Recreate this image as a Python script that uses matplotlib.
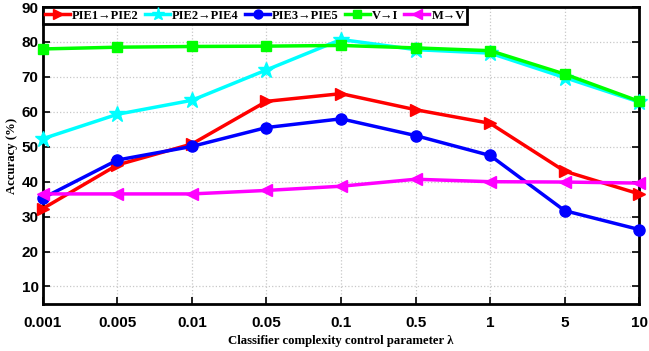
import matplotlib.pyplot as plt

LAMBDAS = ["0.001", "0.005", "0.01", "0.05", "0.1", "0.5", "1", "5", "10"]
YTICKS = [10, 20, 30, 40, 50, 60, 70, 80, 90]

pie1_pie2 = [32.3, 44.8, 50.8, 63.0, 65.2, 60.6, 56.7, 43.0, 36.5]
pie2_pie4 = [52.3, 59.3, 63.3, 72.0, 80.7, 77.8, 76.8, 69.8, 62.8]
pie3_pie5 = [35.3, 46.2, 50.1, 55.5, 58.0, 53.2, 47.5, 31.7, 26.3]
v_i = [78.0, 78.5, 78.7, 78.8, 79.0, 78.3, 77.5, 70.8, 63.0]
m_v = [36.5, 36.5, 36.5, 37.5, 38.7, 40.7, 40.0, 39.9, 39.6]

SERIES = [
    ("PIE1\u2192PIE2", pie1_pie2, "#ff0000", ">", 9),
    ("PIE2\u2192PIE4", pie2_pie4, "#00ffff", "*", 12),
    ("PIE3\u2192PIE5", pie3_pie5, "#0000ff", "o", 8),
    ("V\u2192I", v_i, "#00ff00", "s", 7),
    ("M\u2192V", m_v, "#ff00ff", "<", 9),
]

fig = plt.figure(figsize=(6.49, 3.51), dpi=100)
ax = fig.add_axes([0.066, 0.134, 0.919, 0.846])

x = list(range(len(LAMBDAS)))
for label, vals, color, marker, ms in SERIES:
    ax.plot(x, vals, color=color, marker=marker, markersize=ms, linewidth=2.5,
            label=label, clip_on=False, zorder=3)

ax.set_xlim(0, len(LAMBDAS) - 1)
ax.set_ylim(5, 90)
ax.set_xticks(x)
ax.set_xticklabels(LAMBDAS)
ax.set_yticks(YTICKS)
for lbl in ax.get_xticklabels() + ax.get_yticklabels():
    lbl.set_fontfamily("Liberation Sans")
    lbl.set_fontweight("bold")
    lbl.set_fontsize(11)
ax.tick_params(direction="in", length=5, width=1.2, right=True)
ax.tick_params(axis="x", pad=9)
ax.tick_params(axis="y", pad=3)
ax.grid(True, color="#c8c8c8", linestyle=":", linewidth=0.9)
for s in ax.spines.values():
    s.set_linewidth(2)

ax.set_xlabel("Classifier complexity control parameter \u03bb",
              fontfamily="Liberation Serif", fontweight="bold", fontsize=9.2,
              labelpad=3)
ax.set_ylabel("Accuracy (%)", fontfamily="Liberation Serif", fontweight="bold",
              fontsize=9.2, labelpad=3)

leg = ax.legend(loc="upper left", ncol=5, frameon=True, fancybox=False,
                borderaxespad=0.0, handlelength=2.0, handletextpad=0.15,
                columnspacing=0.5, borderpad=0.2, markerscale=0.8,
                prop={"family": "Liberation Serif", "weight": "bold", "size": 9})
leg.get_frame().set_edgecolor("black")
leg.get_frame().set_linewidth(2)
leg.get_frame().set_alpha(1)
leg.set_zorder(5)

fig.savefig("out.png", dpi=100)
